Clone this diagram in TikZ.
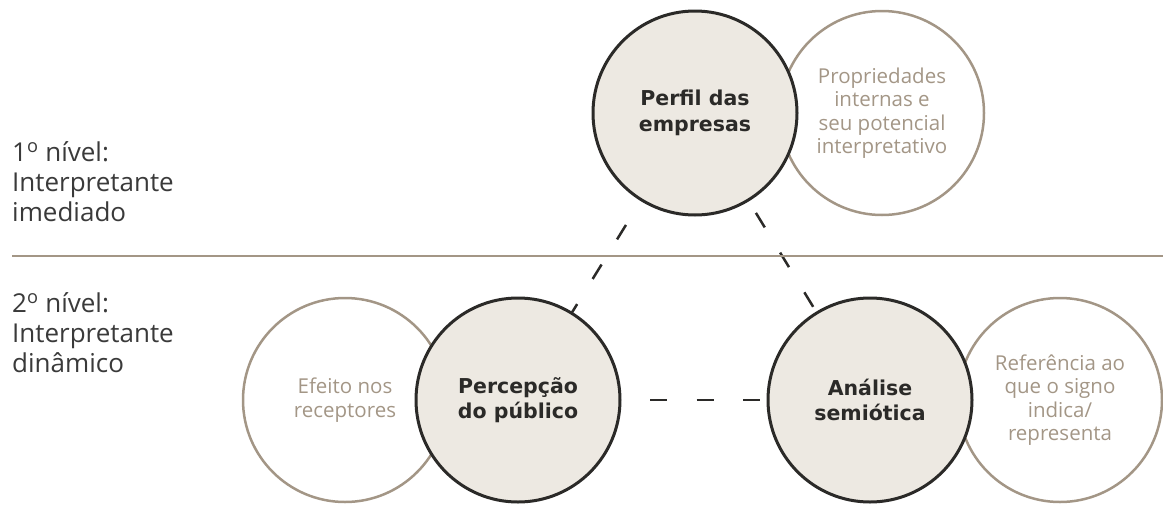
\documentclass[tikz,border=0pt]{standalone}
\usepackage{fontspec}
\setmainfont{Open Sans}
\newfontfamily\headface{DejaVu Sans}
\usetikzlibrary{backgrounds}

\definecolor{sand}{HTML}{EDE9E2}
\definecolor{ink}{HTML}{2B2A28}
\definecolor{taupe}{HTML}{A39686}
\definecolor{graytext}{HTML}{3A3A3A}

\tikzset{
  focus/.style={circle, draw=ink, line width=3pt, fill=sand, minimum size=204pt,
    inner sep=0pt, align=center, text=ink,
    font=\headface\bfseries\fontsize{20.5}{25.5}\selectfont},
  aside/.style={circle, draw=taupe, line width=2.5pt, minimum size=204pt,
    inner sep=0pt, align=center, text=taupe,
    font=\fontsize{20.5}{23.5}\selectfont},
  level/.style={anchor=west, inner sep=0pt, align=left, text=graytext,
    font=\fontsize{26}{30}\selectfont},
  link/.style={ink, line width=2.5pt, dash pattern=on 17pt off 29.5pt}
}

\begin{document}
\begin{tikzpicture}[x=1pt, y=-1pt]

    \useasboundingbox (0,0) rectangle (1163,504);

    % Define the points
    \coordinate (ruleL) at (12,256);
    \coordinate (ruleR) at (1163,256);

    % Draw the level labels
    \node[level] (nivel1) at (12,182) {1\textsuperscript{o} nível:\\Interpretante\\imediado};
    \node[level] (nivel2) at (12,333) {2\textsuperscript{o} nível:\\Interpretante\\dinâmico};

    % Draw the divider
    \draw[taupe, line width=2.5pt] (ruleL) -- (ruleR);

    % Draw the side circles
    \node[aside] (propriedades) at (882,113) {Propriedades\\internas e\\seu potencial\\interpretativo};
    \node[aside] (efeito) at (345,400) {Efeito nos\\receptores};
    \node[aside] (referencia) at (1060,400) {Referência ao\\que o signo\\indica/\\representa};

    % Draw the main circles
    \node[focus] (perfil) at (695,113) {Perfil das\\empresas};
    \node[focus] (percepcao) at (518,400) {Percepção\\do público};
    \node[focus] (analise) at (870,400) {Análise\\semiótica};

    % Dashed links behind the circles
    \begin{scope}[on background layer]
        \draw[link, dash phase=8pt] (perfil.center) -- (percepcao.center);
        \draw[link, dash phase=22.5pt] (perfil.center) -- (analise.center);
        \draw[link, dash phase=7.5pt] (percepcao.center) -- (analise.center);
    \end{scope}

\end{tikzpicture}
\end{document}
